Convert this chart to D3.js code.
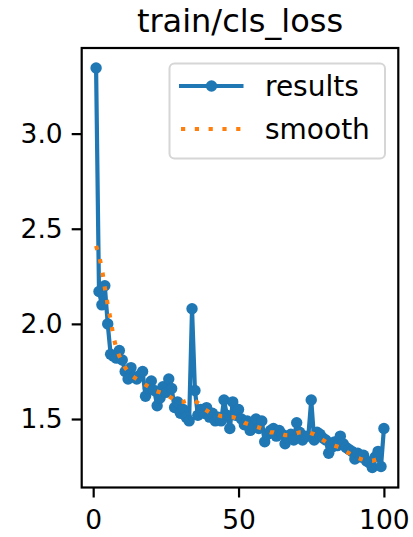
<!DOCTYPE html>
<html>
<head>
<meta charset="utf-8">
<script src="https://cdn.jsdelivr.net/npm/d3@7"></script>
<style>
  body { margin: 0; background: #fff; }
  text { font-family: "DejaVu Sans", sans-serif; fill: #000; }
</style>
</head>
<body>
<script>
// epochs 1..100
const epochs = d3.range(1, 101);

const results = [
  3.345, 2.17, 2.10, 2.20, 2.00, 1.84, 1.83, 1.82, 1.86, 1.81,
  1.75, 1.71, 1.77, 1.72, 1.71, 1.73, 1.75, 1.62, 1.66, 1.70,
  1.65, 1.57, 1.61, 1.67, 1.64, 1.71, 1.66, 1.56, 1.59, 1.53,
  1.55, 1.51, 1.49, 2.08, 1.65, 1.52, 1.55, 1.53, 1.56, 1.51,
  1.53, 1.49, 1.51, 1.49, 1.60, 1.52, 1.45, 1.59, 1.52, 1.55,
  1.50, 1.47, 1.49, 1.44, 1.46, 1.50, 1.45, 1.49, 1.38, 1.42,
  1.44, 1.45, 1.41, 1.44, 1.42, 1.37, 1.40, 1.42, 1.39, 1.48,
  1.43, 1.39, 1.41, 1.41, 1.60, 1.39, 1.43, 1.42, 1.40, 1.39,
  1.32, 1.35, 1.38, 1.36, 1.41, 1.37, 1.35, 1.34, 1.33, 1.29,
  1.32, 1.30, 1.31, 1.28, 1.27, 1.245, 1.30, 1.33, 1.25, 1.45
];

const smooth = [
  2.41, 2.36, 2.29, 2.19, 2.10, 2.02, 1.93, 1.87, 1.83, 1.80,
  1.77, 1.75, 1.73, 1.72, 1.71, 1.70, 1.69, 1.68, 1.67, 1.66,
  1.65, 1.645, 1.64, 1.635, 1.63, 1.62, 1.61, 1.60, 1.595, 1.59,
  1.59, 1.595, 1.60, 1.60, 1.595, 1.585, 1.57, 1.555, 1.545, 1.535,
  1.53, 1.525, 1.52, 1.515, 1.515, 1.515, 1.51, 1.51, 1.505, 1.50,
  1.49, 1.48, 1.475, 1.47, 1.465, 1.46, 1.455, 1.45, 1.44, 1.435,
  1.43, 1.43, 1.425, 1.42, 1.42, 1.415, 1.415, 1.415, 1.42, 1.425,
  1.43, 1.43, 1.43, 1.43, 1.425, 1.42, 1.41, 1.40, 1.39, 1.38,
  1.37, 1.365, 1.36, 1.355, 1.35, 1.34, 1.33, 1.32, 1.31, 1.30,
  1.295, 1.29, 1.285, 1.285, 1.28, 1.28, 1.285, 1.29, 1.30, 1.31
];

const xTicks = [0, 50, 100];
const yTicks = [1.5, 2.0, 2.5, 3.0];
const title = "train/cls_loss";
const seriesNames = ["results", "smooth"];

const W = 413, H = 537;
const m = { left: 81.7, right: 398.3, top: 48, bottom: 487.5 };
const blue = "#1f77b4", orange = "#ff7f0e";
const tickFs = 26.5, legendFs = 28;

const svg = d3.select("body").append("svg")
  .attr("width", W)
  .attr("height", H);

// matplotlib style 5% margins
const xExt = d3.extent(epochs), xPad = (xExt[1] - xExt[0]) * 0.05;
const yAll = results.concat(smooth);
const yExt = d3.extent(yAll), yPad = (yExt[1] - yExt[0]) * 0.05;

const x = d3.scaleLinear().domain([xExt[0] - xPad, xExt[1] + xPad]).range([m.left, m.right]);
const y = d3.scaleLinear().domain([yExt[0] - yPad, yExt[1] + yPad]).range([m.bottom, m.top]);

// axes
const xAxis = svg.append("g")
  .attr("transform", `translate(0,${m.bottom})`)
  .call(d3.axisBottom(x).tickValues(xTicks).tickFormat(d3.format("d")).tickSize(10).tickPadding(12.5));
const yAxis = svg.append("g")
  .attr("transform", `translate(${m.left},0)`)
  .call(d3.axisLeft(y).tickValues(yTicks).tickFormat(d3.format(".1f")).tickSize(10).tickPadding(9));

[xAxis, yAxis].forEach(g => {
  g.select(".domain").remove();
  g.selectAll(".tick line").attr("stroke", "#000").attr("stroke-width", 2.2);
  g.selectAll(".tick text")
    .style("font-family", "DejaVu Sans")
    .style("font-size", tickFs + "px")
    .attr("fill", "#000");
});

// data lines
const line = d3.line().x((d, i) => x(epochs[i])).y(d => y(d));

svg.append("path")
  .datum(results)
  .attr("d", line)
  .attr("fill", "none")
  .attr("stroke", blue)
  .attr("stroke-width", 4.2)
  .attr("stroke-linejoin", "round");

svg.append("g").selectAll("circle")
  .data(results)
  .enter()
  .append("circle")
  .attr("cx", (d, i) => x(epochs[i]))
  .attr("cy", d => y(d))
  .attr("r", 5.7)
  .attr("fill", blue);

svg.append("path")
  .datum(smooth)
  .attr("d", line)
  .attr("fill", "none")
  .attr("stroke", orange)
  .attr("stroke-width", 4.2)
  .attr("stroke-dasharray", "4.2,9.6");

// frame
svg.append("rect")
  .attr("x", m.left)
  .attr("y", m.top)
  .attr("width", m.right - m.left)
  .attr("height", m.bottom - m.top)
  .attr("fill", "none")
  .attr("stroke", "#000")
  .attr("stroke-width", 2.2);

// title
svg.append("text")
  .attr("x", (m.left + m.right) / 2)
  .attr("y", 32)
  .attr("text-anchor", "middle")
  .style("font-size", "32px")
  .text(title);

// legend
const lg = svg.append("g");
lg.append("rect")
  .attr("x", 169.5)
  .attr("y", 63.5)
  .attr("width", 215.5)
  .attr("height", 95)
  .attr("rx", 5)
  .attr("fill", "#fff")
  .attr("fill-opacity", 0.8)
  .attr("stroke", "#d6d6d6")
  .attr("stroke-width", 2);

lg.append("line")
  .attr("x1", 179).attr("x2", 243.5)
  .attr("y1", 86).attr("y2", 86)
  .attr("stroke", blue)
  .attr("stroke-width", 4.2);
lg.append("circle")
  .attr("cx", 211.5).attr("cy", 86).attr("r", 5.7)
  .attr("fill", blue);
lg.append("line")
  .attr("x1", 181).attr("x2", 243.5)
  .attr("y1", 129).attr("y2", 129)
  .attr("stroke", orange)
  .attr("stroke-width", 4.2)
  .attr("stroke-dasharray", "4.2,9.6");

lg.selectAll("text.lbl")
  .data(seriesNames)
  .enter()
  .append("text")
  .attr("class", "lbl")
  .attr("x", 265)
  .attr("y", (d, i) => 96 + i * 42.5)
  .style("font-size", legendFs + "px")
  .text(d => d);
</script>
</body>
</html>
